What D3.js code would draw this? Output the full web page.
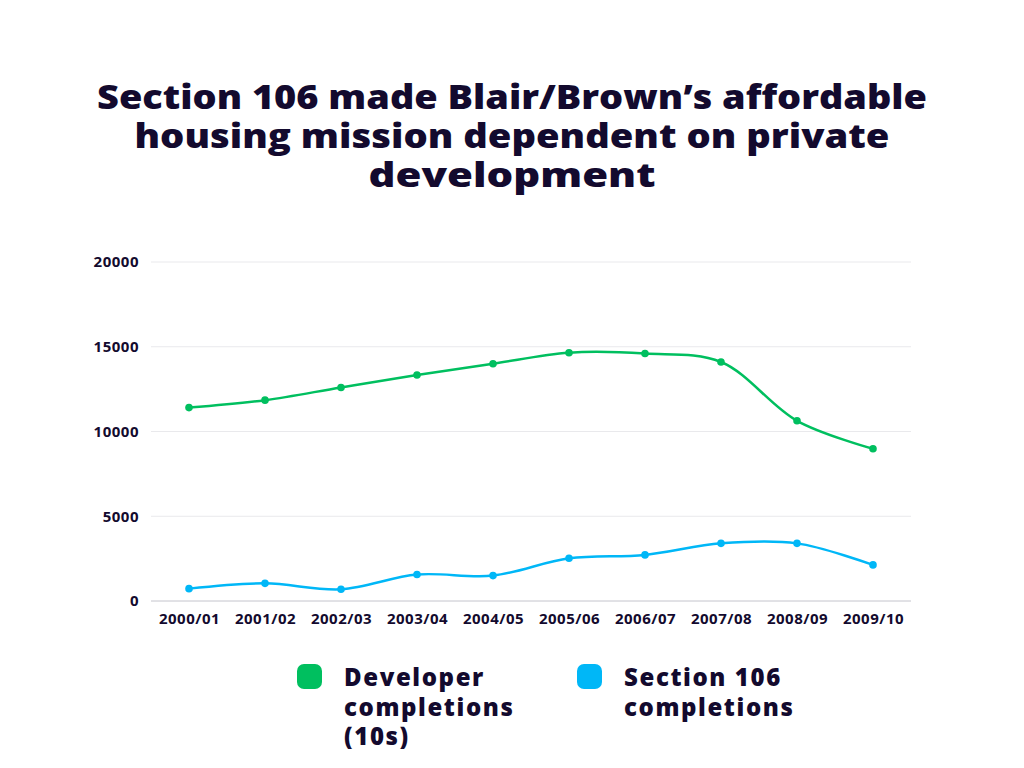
<!DOCTYPE html>
<html lang="en">
<head>
<meta charset="utf-8">
<title>Section 106 completions</title>
<script src="https://cdn.jsdelivr.net/npm/d3@7/dist/d3.min.js"></script>
<style>
  body { margin: 0; background: #fff; }
  svg text { font-family: "Open Sans", "Noto Sans", sans-serif; fill: #130a2e; }
</style>
</head>
<body>
<svg id="chart" width="1024" height="768"></svg>
<script>
// data
var years = ["2000/01", "2001/02", "2002/03", "2003/04", "2004/05",
             "2005/06", "2006/07", "2007/08", "2008/09", "2009/10"];
var developer = [11410, 11850, 12600, 13330, 14000, 14650, 14600, 14100, 10630, 8980];
var section106 = [730, 1040, 690, 1560, 1500, 2520, 2720, 3400, 3400, 2130];
var yTicks = [0, 5000, 10000, 15000, 20000];
var titleLines = ["Section 106 made Blair/Brown\u2019s affordable",
                  "housing mission dependent on private",
                  "development"];

var series = [
  { name: ["Developer", "completions", "(10s)"], values: developer, color: "#00bf5f" },
  { name: ["Section 106", "completions"], values: section106, color: "#00b7f7" }
];

var svg = d3.select("#chart");

// title
var title = svg.append("text")
  .attr("text-anchor", "middle")
  .attr("font-weight", 800)
  .attr("font-size", 34);
var titleWidths = [830, 755, 287];
titleLines.forEach(function(line, i) {
  title.append("tspan")
    .attr("x", 512)
    .attr("y", 109 + i * 39)
    .attr("textLength", titleWidths[i])
    .attr("lengthAdjust", "spacingAndGlyphs")
    .text(line);
});

// plot area
var plotL = 151, plotR = 911, plotT = 262, plotB = 601;

var x = d3.scalePoint().domain(years).range([plotL, plotR]).padding(0.5);
var y = d3.scaleLinear().domain([0, 20000]).range([plotB, plotT]);

// gridlines
svg.append("g").selectAll("line")
  .data(yTicks)
  .join("line")
  .attr("x1", plotL).attr("x2", plotR)
  .attr("y1", function(d) { return y(d); })
  .attr("y2", function(d) { return y(d); })
  .attr("stroke", function(d) { return d === 0 ? "#c4c4cc" : "#e9e9ec"; })
  .attr("stroke-width", 1);

// y axis
var yAxis = svg.append("g")
  .attr("transform", "translate(" + plotL + ",0)")
  .call(d3.axisLeft(y).tickValues(yTicks).tickSize(0).tickPadding(12).tickFormat(d3.format("d")));
yAxis.select(".domain").remove();
yAxis.selectAll("text")
  .attr("font-size", 15).attr("font-weight", 700)
  .style("letter-spacing", "0.5px")
  .style("font-family", "'Open Sans', sans-serif").attr("fill", "#130a2e");

// x axis
var xAxis = svg.append("g")
  .attr("transform", "translate(0," + plotB + ")")
  .call(d3.axisBottom(x).tickSize(0).tickPadding(12));
xAxis.select(".domain").remove();
xAxis.selectAll("text")
  .attr("font-size", 15).attr("font-weight", 700)
  .style("letter-spacing", "0.5px")
  .style("font-family", "'Open Sans', sans-serif").attr("fill", "#130a2e");

// lines
var line = d3.line()
  .x(function(d, i) { return x(years[i]); })
  .y(function(d) { return y(d); })
  .curve(d3.curveCatmullRom.alpha(0.5));

series.forEach(function(s) {
  svg.append("path")
    .datum(s.values)
    .attr("d", line)
    .attr("fill", "none")
    .attr("stroke", s.color)
    .attr("stroke-width", 2.5);
  svg.append("g").selectAll("circle")
    .data(s.values)
    .join("circle")
    .attr("cx", function(d, i) { return x(years[i]); })
    .attr("cy", function(d) { return y(d); })
    .attr("r", 3.8)
    .attr("fill", s.color);
});

// legend
var legendX = [297, 577];
series.forEach(function(s, i) {
  var g = svg.append("g").attr("transform", "translate(" + legendX[i] + ",664)");
  g.append("rect")
    .attr("width", 25).attr("height", 25)
    .attr("rx", 7)
    .attr("fill", s.color);
  var t = g.append("text")
    .attr("font-size", 24).attr("font-weight", 800)
    .style("letter-spacing", "1.6px");
  s.name.forEach(function(n, j) {
    t.append("tspan").attr("x", 47).attr("y", 22 + j * 29.5).text(n);
  });
});
</script>
</body>
</html>
